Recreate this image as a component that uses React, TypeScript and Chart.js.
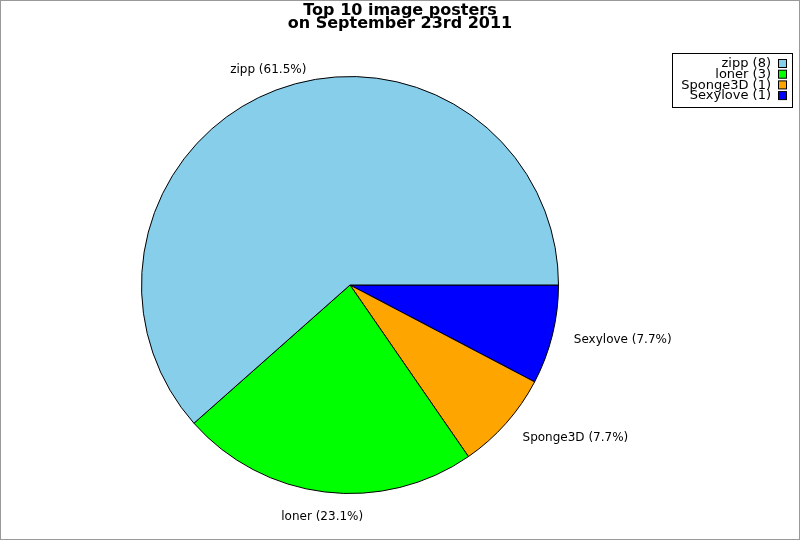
import React, { useEffect, useRef } from "react";
import { Chart, registerables } from "chart.js";

Chart.register(...registerables);

const categories = ["zipp", "loner", "Sponge3D", "Sexylove"];
const counts = [8, 3, 1, 1];
const colors = ["#87CEEB", "#00FF00", "#FFA500", "#0000FF"];
const titleLines = ["Top 10 image posters", "on September 23rd 2011"];

const FONT = "'DejaVu Sans', sans-serif";

export default function App() {
  const ref = useRef<HTMLCanvasElement | null>(null);

  useEffect(() => {
    document.body.style.margin = "0";
    const canvas = ref.current;
    if (!canvas) return;
    const total = counts.reduce((a, b) => a + b, 0);
    // drawn clockwise from 3 o'clock, so reverse to get counter-clockwise order
    const order = categories.map((_, i) => i).reverse();

    const overlay = {
      id: "overlay",
      afterDraw(chart: any) {
        const ctx = chart.ctx as CanvasRenderingContext2D;
        ctx.save();
        // border
        ctx.strokeStyle = "#999999";
        ctx.lineWidth = 1;
        ctx.strokeRect(0.5, 0.5, 799, 539);
        // title
        ctx.fillStyle = "#000";
        ctx.textAlign = "center";
        ctx.textBaseline = "middle";
        ctx.font = `bold 16px ${FONT}`;
        ctx.fillText(titleLines[0], 400, 11);
        ctx.fillText(titleLines[1], 400, 24);
        // slice labels
        const meta = chart.getDatasetMeta(0);
        ctx.font = `12px ${FONT}`;
        meta.data.forEach((arc: any, j: number) => {
          const i = order[j];
          const p = arc.getProps(["x", "y", "startAngle", "endAngle", "outerRadius"], true);
          const mid = (p.startAngle + p.endAngle) / 2;
          const R = p.outerRadius + 22;
          const s = Math.sin(mid);
          const ax = p.x + R * Math.cos(mid);
          const ay = p.y + R * s + (s > 0.9 ? 3 : 0);
          const c = Math.cos(mid);
          ctx.textAlign = Math.abs(c) < 0.45 ? "center" : c > 0 ? "left" : "right";
          ctx.textBaseline = "middle";
          const pct = ((counts[i] / total) * 100).toFixed(1);
          ctx.fillText(`${categories[i]} (${pct}%)`, ax, ay);
        });
        // legend
        ctx.fillStyle = "#fff";
        ctx.fillRect(672.5, 53.5, 120, 54);
        ctx.strokeStyle = "#000";
        ctx.strokeRect(672.5, 53.5, 120, 54);
        ctx.font = `13px ${FONT}`;
        ctx.textAlign = "right";
        ctx.textBaseline = "middle";
        categories.forEach((name, i) => {
          const y = 64 + i * 10.7;
          ctx.fillStyle = "#000";
          ctx.fillText(`${name} (${counts[i]})`, 771, y);
          ctx.fillStyle = colors[i];
          ctx.fillRect(778.5, y - 4.5, 8, 8);
          ctx.strokeStyle = "#000";
          ctx.strokeRect(778.5, y - 4.5, 8, 8);
        });
        ctx.restore();
      },
    };

    const chart = new Chart(canvas, {
      type: "pie",
      data: {
        labels: order.map((i) => categories[i]),
        datasets: [
          {
            data: order.map((i) => counts[i]),
            backgroundColor: order.map((i) => colors[i]),
            borderColor: "#000",
            borderWidth: 1,
            hoverOffset: 0,
            offset: 0,
          },
        ],
      },
      options: {
        responsive: false,
        animation: false,
        rotation: 90,
        layout: { padding: { left: 141, right: 241, top: 76, bottom: 46 } },
        plugins: {
          legend: { display: false },
          title: { display: false },
          tooltip: { enabled: false },
        },
        events: [],
      },
      plugins: [overlay],
    });
    return () => chart.destroy();
  }, []);

  return (
    <div style={{ position: "absolute", left: 0, top: 0, width: 800, height: 540, background: "#fff" }}>
      <canvas ref={ref} width={800} height={540} style={{ width: 800, height: 540, display: "block" }} />
    </div>
  );
}
